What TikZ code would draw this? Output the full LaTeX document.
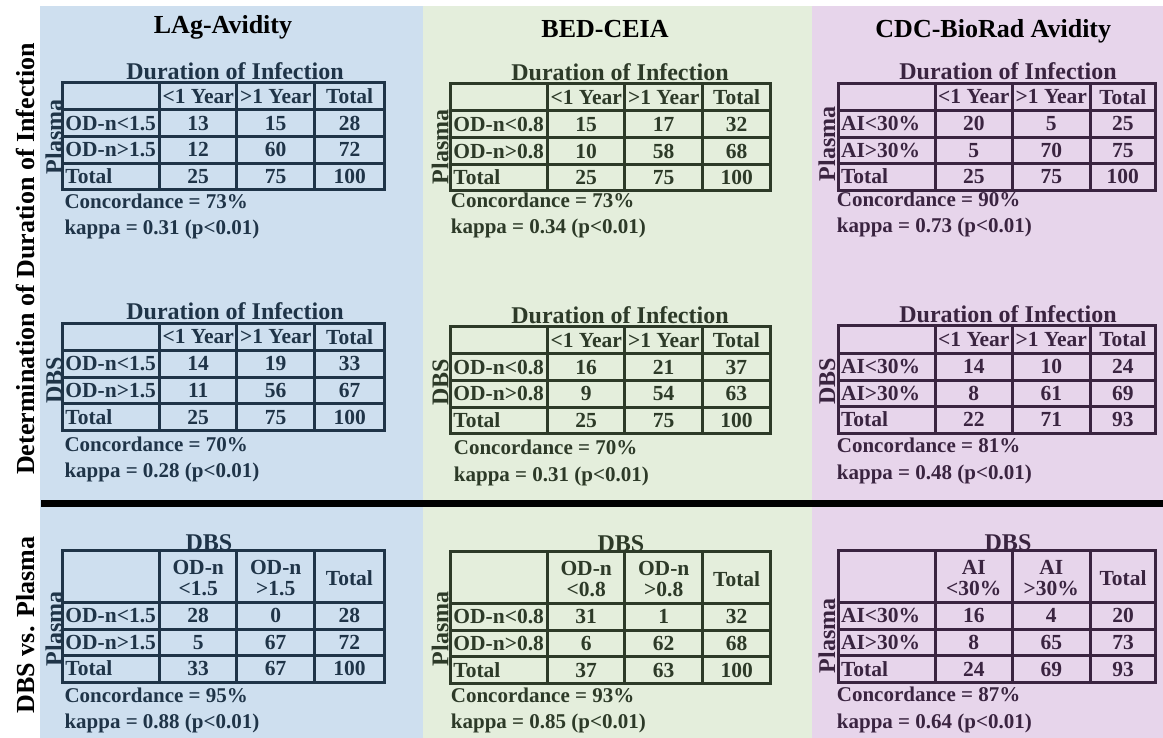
\documentclass[tikz,border=0pt]{standalone}
\usepackage{fontspec}
\setmainfont{Liberation Serif}
\definecolor{pblue}{HTML}{CEDFEF}
\definecolor{pgreen}{HTML}{E4EEDC}
\definecolor{ppurple}{HTML}{E7D5EB}
\definecolor{tblue}{HTML}{1F3448}
\definecolor{tgreen}{HTML}{2D3A28}
\definecolor{tpurple}{HTML}{3A2440}
\newcommand{\cellfnt}{\fontsize{21.5pt}{21pt}\selectfont\bfseries}
\newcommand{\durfnt}{\fontsize{24pt}{26pt}\selectfont\bfseries}
\newcommand{\sidefnt}{\fontsize{24pt}{26pt}\selectfont\bfseries}
\newcommand{\statfnt}{\fontsize{21pt}{24pt}\selectfont\bfseries}
\newcommand{\bigfnt}{\fontsize{26pt}{28pt}\selectfont\bfseries}
\tikzset{
  tgrid/.style={line width=3pt},
  hcell/.style={font=\cellfnt, align=center, inner sep=0pt, anchor=center},
  lcell/.style={font=\cellfnt, inner sep=0pt, anchor=base west},
  ccell/.style={font=\cellfnt, inner sep=0pt, anchor=base},
  durtitle/.style={font=\durfnt, inner sep=0pt, anchor=base},
  sidelab/.style={font=\sidefnt, inner sep=0pt, anchor=base, rotate=90},
  statline/.style={font=\statfnt, inner sep=0pt, anchor=base west},
  paneltitle/.style={font=\bigfnt, inner sep=0pt, anchor=base, text=black},
  biglab/.style={font=\bigfnt, inner sep=0pt, anchor=base, rotate=90, text=black},
}
% #1 name, #2 header height, #3 width, #4-#6 header cells, #7 rows
\newcommand{\ctab}[7]{%
  \draw[tgrid] (0,0) rectangle (#3,#2+80);
  \draw[tgrid] (97,0) -- (97,#2+80) (174,0) -- (174,#2+80) (252,0) -- (252,#2+80)
     (0,#2) -- (#3,#2) (0,#2+27) -- (#3,#2+27) (0,#2+53.5) -- (#3,#2+53.5);
  \node[hcell] (#1-h1) at (135.5,{#2/2+0.08*(#2-27)}) {#4};
  \node[hcell] (#1-h2) at (213,{#2/2+0.08*(#2-27)}) {#5};
  \node[hcell] (#1-h3) at ({(252+#3)/2},{#2/2+0.08*(#2-27)}) {#6};
  \foreach \lab/\va/\vb/\vc [count=\i] in {#7}{
    \node[lcell] (#1-\i-0) at (2.5,{#2+20.5+26.6*(\i-1)}) {\lab};
    \node[ccell] (#1-\i-1) at (135.5,{#2+20.5+26.6*(\i-1)}) {\va};
    \node[ccell] (#1-\i-2) at (213,{#2+20.5+26.6*(\i-1)}) {\vb};
    \node[ccell] (#1-\i-3) at ({(252+#3)/2},{#2+20.5+26.6*(\i-1)}) {\vc};
  }%
}
\begin{document}
\begin{tikzpicture}[x=1pt,y=-1pt]
\useasboundingbox (0,0) rectangle (1163,738);
\fill[white] (0,0) rectangle (1163,738);
% panels
\fill[pblue] (40,6) rectangle (423.3,738);
\fill[pgreen] (423.3,6) rectangle (811.7,738);
\fill[ppurple] (811.7,6) rectangle (1163,738);
% separator
\coordinate (sepL) at (41,503.3);
\coordinate (sepR) at (1163,503.3);
\draw[line width=6.5pt] (sepL) -- (sepR);
% panel titles
\node[paneltitle] (t1) at (223,33.5) {LAg-Avidity};
\node[paneltitle] (t2) at (605,38) {BED-CEIA};
\node[paneltitle] (t3) at (993.3,37.5) {CDC-BioRad Avidity};
% row labels
\node[biglab] (v1) at (34.5,259) {Determination of Duration of Infection};
\node[biglab] (v2) at (34.5,625) {DBS vs. Plasma};

% ---------- LAg ----------
\begin{scope}[shift={(62.7,82.7)}, color=tblue]
  \ctab{L1}{27}{322}{<1 Year}{>1 Year}{Total}{OD-n<1.5/13/15/28, OD-n>1.5/12/60/72, Total/25/75/100}
  \node[durtitle] (L1-t) at (172.3,-3.5) {Duration of Infection};
  \node[sidelab] (L1-s) at (-0.5,54.3) {Plasma};
  \node[statline] (L1-c) at (1.6,126) {Concordance = 73\%};
  \node[statline] (L1-k) at (1.6,152) {kappa = 0.31 (p<0.01)};
\end{scope}
\begin{scope}[shift={(62.7,323.3)}, color=tblue]
  \ctab{L2}{27}{322}{<1 Year}{>1 Year}{Total}{OD-n<1.5/14/19/33, OD-n>1.5/11/56/67, Total/25/75/100}
  \node[durtitle] (L2-t) at (172.3,-3.5) {Duration of Infection};
  \node[sidelab] (L2-s) at (-0.5,56.7) {DBS};
  \node[statline] (L2-c) at (1.6,128.6) {Concordance = 70\%};
  \node[statline] (L2-k) at (1.6,154.6) {kappa = 0.28 (p<0.01)};
\end{scope}
\begin{scope}[shift={(62.7,550)}, color=tblue]
  \ctab{L3}{52}{321.5}{OD-n\\<1.5}{OD-n\\>1.5}{Total}{OD-n<1.5/28/0/28, OD-n>1.5/5/67/72, Total/33/67/100}
  \node[durtitle] (L3-t) at (146.3,0) {DBS};
  \node[sidelab] (L3-s) at (-0.5,79) {Plasma};
  \node[statline] (L3-c) at (1.6,152) {Concordance = 95\%};
  \node[statline] (L3-k) at (1.6,178) {kappa = 0.88 (p<0.01)};
\end{scope}

% ---------- BED ----------
\begin{scope}[shift={(450.7,84)}, color=tgreen]
  \ctab{M1}{27}{320}{<1 Year}{>1 Year}{Total}{OD-n<0.8/15/17/32, OD-n>0.8/10/58/68, Total/25/75/100}
  \node[durtitle] (M1-t) at (169.3,-3.5) {Duration of Infection};
  \node[sidelab] (M1-s) at (-2.4,62.7) {Plasma};
  \node[statline] (M1-c) at (0,123.6) {Concordance = 73\%};
  \node[statline] (M1-k) at (0,149.6) {kappa = 0.34 (p<0.01)};
\end{scope}
\begin{scope}[shift={(450.7,326.7)}, color=tgreen]
  \ctab{M2}{27}{319.5}{<1 Year}{>1 Year}{Total}{OD-n<0.8/16/21/37, OD-n>0.8/9/54/63, Total/25/75/100}
  \node[durtitle] (M2-t) at (169.3,-3.5) {Duration of Infection};
  \node[sidelab] (M2-s) at (-2.4,55.8) {DBS};
  \node[statline] (M2-c) at (3,127.6) {Concordance = 70\%};
  \node[statline] (M2-k) at (3,154.3) {kappa = 0.31 (p<0.01)};
\end{scope}
\begin{scope}[shift={(450.7,551.7)}, color=tgreen]
  \ctab{M3}{51.6}{320}{OD-n\\<0.8}{OD-n\\>0.8}{Total}{OD-n<0.8/31/1/32, OD-n>0.8/6/62/68, Total/37/63/100}
  \node[durtitle] (M3-t) at (170.3,0) {DBS};
  \node[sidelab] (M3-s) at (-2.4,77.3) {Plasma};
  \node[statline] (M3-c) at (0,151) {Concordance = 93\%};
  \node[statline] (M3-k) at (0,176.6) {kappa = 0.85 (p<0.01)};
\end{scope}

% ---------- CDC ----------
\begin{scope}[shift={(838.3,83.3)}, color=tpurple]
  \ctab{R1}{27}{317}{<1 Year}{>1 Year}{Total}{AI<30\%/20/5/25, AI>30\%/5/70/75, Total/25/75/100}
  \node[durtitle] (R1-t) at (169.7,-3.5) {Duration of Infection};
  \node[sidelab] (R1-s) at (-3.3,60.7) {Plasma};
  \node[statline] (R1-c) at (-1.6,123.4) {Concordance = 90\%};
  \node[statline] (R1-k) at (-1.6,149.5) {kappa = 0.73 (p<0.01)};
\end{scope}
\begin{scope}[shift={(838.3,326)}, color=tpurple]
  \ctab{R2}{27}{317}{<1 Year}{>1 Year}{Total}{AI<30\%/14/10/24, AI>30\%/8/61/69, Total/22/71/93}
  \node[durtitle] (R2-t) at (169.7,-3.5) {Duration of Infection};
  \node[sidelab] (R2-s) at (-3.3,55.5) {DBS};
  \node[statline] (R2-c) at (-1.6,126.3) {Concordance = 81\%};
  \node[statline] (R2-k) at (-1.6,153) {kappa = 0.48 (p<0.01)};
\end{scope}
\begin{scope}[shift={(838.3,550.7)}, color=tpurple]
  \ctab{R3}{51.6}{317.5}{AI\\<30\%}{AI\\>30\%}{Total}{AI<30\%/16/4/20, AI>30\%/8/65/73, Total/24/69/93}
  \node[durtitle] (R3-t) at (169.7,0) {DBS};
  \node[sidelab] (R3-s) at (-3.3,85) {Plasma};
  \node[statline] (R3-c) at (-1.6,151) {Concordance = 87\%};
  \node[statline] (R3-k) at (-1.6,177.6) {kappa = 0.64 (p<0.01)};
\end{scope}
\end{tikzpicture}
\end{document}
